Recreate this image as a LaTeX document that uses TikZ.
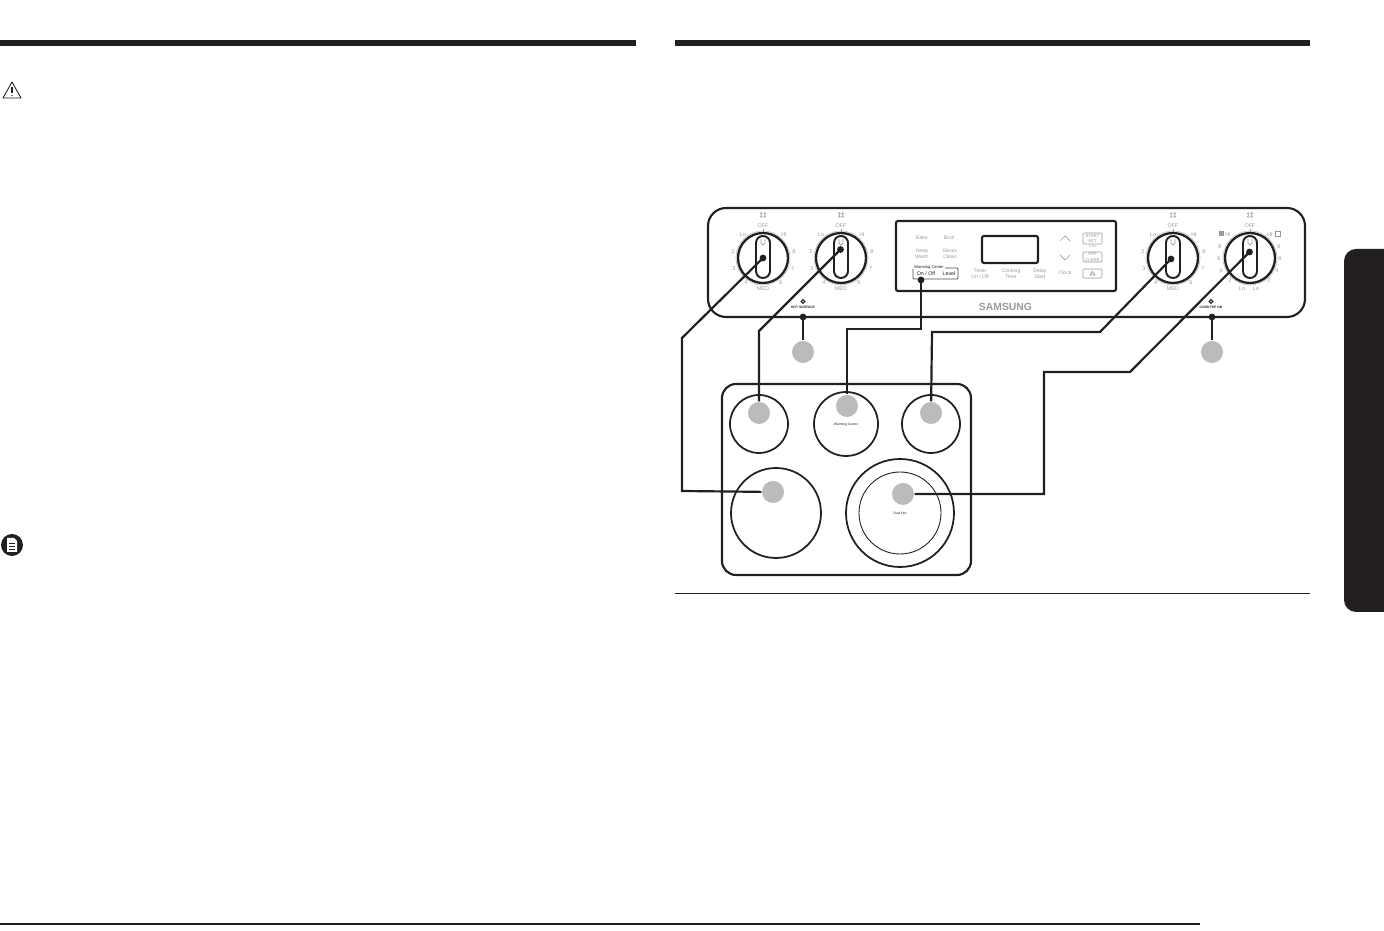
\documentclass[tikz,border=0pt]{standalone}
\usepackage{fontspec}
\setmainfont{Liberation Sans}
\definecolor{inkblack}{HTML}{231F20}
\definecolor{calloutgray}{HTML}{BBBBBB}
\definecolor{labelgray}{HTML}{9A9A9A}
\tikzset{
    wire/.style={line width=0.62pt, draw=inkblack},
    outline/.style={line width=0.6pt, draw=inkblack},
    burner/.style={line width=0.5pt, draw=inkblack},
    callout/.style={circle, fill=calloutgray, inner sep=0pt, minimum size=0.22cm},
    dial/.style={text=labelgray, inner sep=0pt, font=\fontsize{1.55}{1.8}\selectfont},
    keytext/.style={text=labelgray, inner sep=0pt, align=center, font=\fontsize{1.45}{1.7}\selectfont},
    blacktext/.style={text=inkblack, inner sep=0pt, align=center, font=\fontsize{1.15}{1.4}\selectfont},
    softkey/.style={draw=labelgray, line width=0.15pt, rounded corners=0.01cm},
}

\begin{document}
\begin{tikzpicture}[x=0.01cm, y=-0.01cm]
    \useasboundingbox (0,0) rectangle (1384,931);

    \coordinate (kAdot) at (763,258);
    \coordinate (kBdot) at (840.5,249.5);
    \coordinate (kCdot) at (1171,259);
    \coordinate (kDdot) at (1249.5,252);
    \coordinate (warmdot) at (921,280);
    \coordinate (hotdot) at (803,317);
    \coordinate (topdot) at (1212,317);

    % Page rules and tab
    \fill[inkblack] (0,40) rectangle (636,46);
    \fill[inkblack] (675,40) rectangle (1310,46);
    \fill[inkblack] (0,923) rectangle (1200,925);
    \fill[inkblack] (675,592.6) rectangle (1310,593.6);
    \fill[inkblack] (1384,249) [rounded corners=0.12cm] -- (1344,249) -- (1344,612) [sharp corners] -- (1384,612) -- cycle;

    % Warning and note signs
    \draw[line width=0.25pt, inkblack, line join=round] (12,82) -- (3,98) -- (21,98) -- cycle;
    \draw[line width=0.4pt, inkblack] (12,87) -- (12,93.5);
    \fill[inkblack] (12,95.7) circle (0.8);
    \fill[inkblack] (12,545) circle (11);
    \fill[white] (7,538) -- (14,538) -- (17,541) -- (17,552) -- (7,552) -- cycle;
    \foreach \y in {543,546,549} {\fill[inkblack] (9,\y) rectangle (15,\y+1);}

    % Control panel
    \draw[outline, rounded corners=0.18cm] (708,208) rectangle (1305,317);
    \draw[outline, rounded corners=0.02cm] (896,221) rectangle (1116,291);
    \draw[outline, rounded corners=0.02cm] (982,236) rectangle (1038,263);

    % Knobs
    \foreach \c in {763,841,1173,1250} {
        \begin{scope}[shift={(\c,258)}]
            \draw[line width=0.25pt, gray!40] (0,0) circle (27);
            \draw[line width=0.65pt, inkblack, fill=white] (0,0) circle (25);
            \draw[line width=0.55pt, inkblack, fill=white, rounded corners=0.069cm] (-7,-22) rectangle (7,20);
            \draw[line width=0.2pt, labelgray, rounded corners=0.018cm] (-2,-19) -- (-2,-13) -- (2,-13) -- (2,-19);
            \draw[line width=0.2pt, labelgray] (0,-29) -- (0,-26);
            \node[dial] at (0,-32) {OFF};
            \foreach \a in {-1.7,1.7} {
                \foreach \b in {-44.5,-41.5} {\draw[line width=0.12pt, labelgray] (\a,\b) circle (1);}
            }
        \end{scope}
    }
    \foreach \c in {763,841,1173} {
        \begin{scope}[shift={(\c,258)}]
            \node[dial] at (-20,-23) {Lo};
            \node[dial] at (21,-23) {HI};
            \node[dial] at (-30,-6) {2};
            \node[dial] at (31,-6) {8};
            \node[dial] at (-29,11) {3};
            \node[dial] at (30,11) {7};
            \node[dial] at (-17,25) {4};
            \node[dial] at (18,25) {6};
            \node[dial] at (0,31) {MED};
        \end{scope}
    }
    \begin{scope}[shift={(1250,258)}]
        \fill[labelgray] (-31,-26.5) rectangle (-26,-21.5);
        \node[dial] at (-22,-23) {HI};
        \node[dial] at (20,-23) {HI};
        \draw[line width=0.2pt, labelgray] (25,-26.5) rectangle (30,-21.5);
        \foreach \x/\y/\s in {-30/-11/8,-31/1/6,-29/13/4,-20/23/2,-8/31/Lo,6/31/Lo,19/23/2,27/13/4,30/1/6,29/-11/8} {
            \node[dial] at (\x,\y) {\s};
        }
    \end{scope}

    % Display keys
    \foreach \x/\y/\s in {922/238/Bake,949/238/Broil,922/254/{Keep\\Warm},950/254/{Steam\\Clean},
        980/274/{Timer\\On / Off},1011/274/{Cooking\\Time},1040/274/{Delay\\Start},1065/273/Clock} {
        \node[keytext] at (\x,\y) {\s};
    }
    \draw[line width=0.2pt, labelgray] (1060,241) -- (1065,236) -- (1070,241);
    \draw[line width=0.2pt, labelgray] (1060,255) -- (1065,260) -- (1070,255);
    \draw[softkey] (1083,233) rectangle (1102,244);
    \draw[softkey] (1083,252) rectangle (1102,262);
    \draw[softkey] (1083,269) rectangle (1102,278);
    \node[keytext, font=\fontsize{1.25}{1.5}\selectfont] at (1092.5,238.5) {START\\SET};
    \node[keytext, font=\fontsize{0.9}{1.1}\selectfont] at (1093,246.5) {3 Sec};
    \node[keytext, font=\fontsize{1.25}{1.5}\selectfont] at (1092.5,257) {OFF\\CLEAR};
    \draw[line width=0.2pt, labelgray] (1090,275) -- (1092.5,271.5) -- (1095,275) -- cycle;
    \draw[line width=0.25pt, inkblack!80, rounded corners=0.01cm] (913,268) rectangle (958,279);
    \node[blacktext, fill=white, inner xsep=0.3pt] at (929,267) {Warming Center};
    \node[blacktext, font=\fontsize{1.5}{1.7}\selectfont] at (926,274) {On / Off};
    \node[blacktext, font=\fontsize{1.5}{1.7}\selectfont] at (949,274) {Level};
    \node[text=labelgray, inner sep=0pt, font=\fontsize{2.95}{3.2}\selectfont\bfseries] at (1005.5,306.5) {SAMSUNG};

    % Indicator lamps
    \foreach \x in {803,1211} {\draw[line width=0.3pt, inkblack] (\x,301.5) circle (1.8);}
    \node[blacktext, font=\fontsize{0.95}{1.2}\selectfont\bfseries] at (803,307) {HOT SURFACE};
    \node[blacktext, font=\fontsize{0.95}{1.2}\selectfont\bfseries] at (1211,307) {COOKTOP ON};

    % Cooktop
    \draw[outline, rounded corners=0.14cm] (722,384) rectangle (971,575);
    \draw[burner] (759,424) circle (29);
    \draw[burner] (846,424) circle (32);
    \draw[burner] (931,424) circle (29);
    \draw[burner] (776,513) circle (45);
    \draw[burner] (900,513) circle (54);
    \draw[line width=0.25pt, inkblack] (900,513) circle (41);
    \node[blacktext, font=\fontsize{0.95}{1.1}\selectfont] at (846,424.5) {Warming Center};
    \node[blacktext, font=\fontsize{0.95}{1.1}\selectfont] at (900,513) {Dual Hot};

    \node[callout] (hot) at (803,352) {};
    \node[callout] (top) at (1212,352) {};
    \node[callout] (bLeftRear) at (759,413) {};
    \node[callout] (bWarm) at (847,406) {};
    \node[callout] (bRightRear) at (931,413) {};
    \node[callout] (bLeftFront) at (773,492) {};
    \node[callout] (bRightFront) at (903,494) {};

    % Connectors
    \draw[wire] (kAdot) -- (682,338) -- (682,491) -- (bLeftFront);
    \draw[wire] (kBdot) -- (759,331) -- (bLeftRear);
    \draw[wire] (warmdot) -- (921,329) -- (847,329) -- (bWarm);
    \draw[wire] (kCdot) -- (1100,332) -- (932,332) -- (bRightRear);
    \draw[wire] (kDdot) -- (1130,372) -- (1044,372) -- (1044,494) -- (bRightFront);
    \draw[wire] (hotdot) -- (hot);
    \draw[wire] (topdot) -- (top);

    \foreach \p in {kAdot,kBdot,kCdot,kDdot,warmdot,hotdot,topdot} {\fill[inkblack] (\p) circle (3.4);}
\end{tikzpicture}
\end{document}
